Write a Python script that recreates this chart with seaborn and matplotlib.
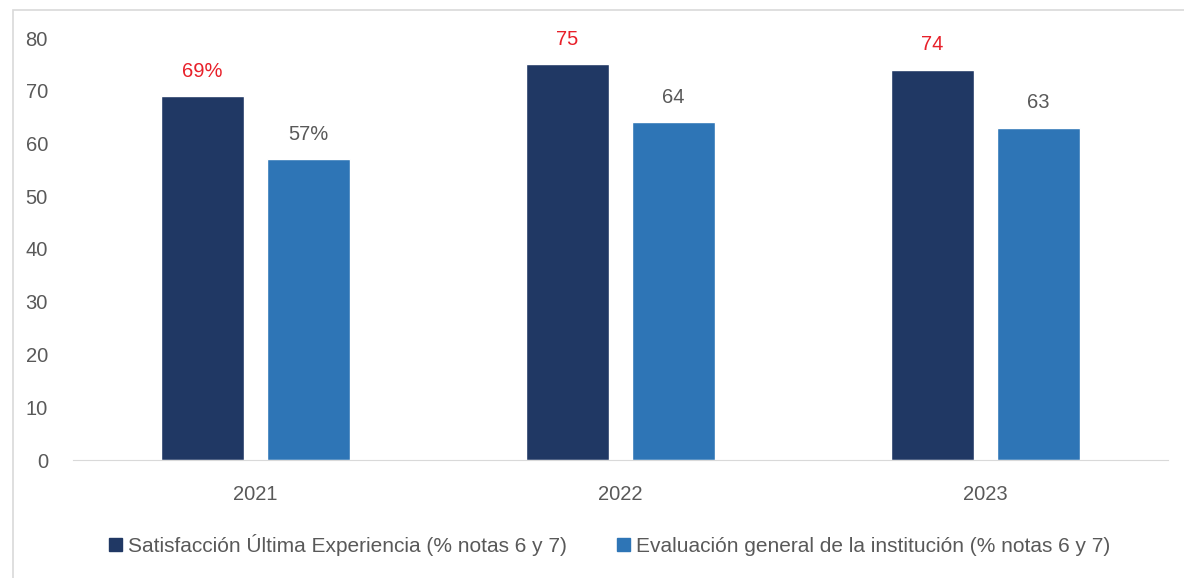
import matplotlib
matplotlib.use("Agg")
import matplotlib.pyplot as plt
import matplotlib.patches as mpatches
import pandas as pd
import seaborn as sns

years = ["2021", "2022", "2023"]
series = ["Satisfacción Última Experiencia (% notas 6 y 7)",
          "Evaluación general de la institución (% notas 6 y 7)"]
satisfaccion = [69, 75, 74]
evaluacion = [57, 64, 63]
labels_sat = ["69%", "75", "74"]
labels_eval = ["57%", "64", "63"]

df = pd.DataFrame({
    "year": years * 2,
    "serie": [series[0]] * 3 + [series[1]] * 3,
    "value": satisfaccion + evaluacion,
})

sns.set_style("white")
plt.rcParams["font.family"] = ["Liberation Sans", "DejaVu Sans"]

fig = plt.figure(figsize=(11.84, 5.78), dpi=100)
ax = fig.add_axes([73 / 1184, (578 - 460) / 578, (1168 - 73) / 1184, (460 - 38) / 578])

palette = {series[0]: "#203864", series[1]: "#2E75B6"}
sns.barplot(data=df, x="year", y="value", hue="serie", palette=palette,
            width=0.58, gap=0.21, ax=ax, legend=False, saturation=1)

ax.bar_label(ax.containers[0], labels=labels_sat, padding=11, color="#E8202A", fontsize=14.5)
ax.bar_label(ax.containers[1], labels=labels_eval, padding=11, color="#595959", fontsize=14.5)

ax.set_ylim(0, 80)
ax.set_yticks(range(0, 81, 10))
ax.set_xlabel("")
ax.set_ylabel("")
ax.tick_params(axis="both", labelsize=14.5, labelcolor="#595959", length=0)
ax.tick_params(axis="x", pad=18)
ax.tick_params(axis="y", pad=18)
for s in ["top", "right", "left"]:
    ax.spines[s].set_visible(False)
ax.spines["bottom"].set_color("#D9D9D9")

handles = [mpatches.Patch(color=palette[s], label=s) for s in series]
fig.legend(handles=handles, loc="center", bbox_to_anchor=(0.515, 1 - 545 / 578), ncol=2,
           frameon=False, fontsize=15, labelcolor="#595959", handlelength=0.6,
           handleheight=0.6, handletextpad=0.3, columnspacing=2.4)

frame = mpatches.Rectangle((13 / 1184, -0.01), 1.0, 1 - 10 / 578 + 0.01, transform=fig.transFigure,
                           fill=False, edgecolor="#D9D9D9", linewidth=1.2)
fig.patches.append(frame)

fig.savefig("out.png", dpi=100)
